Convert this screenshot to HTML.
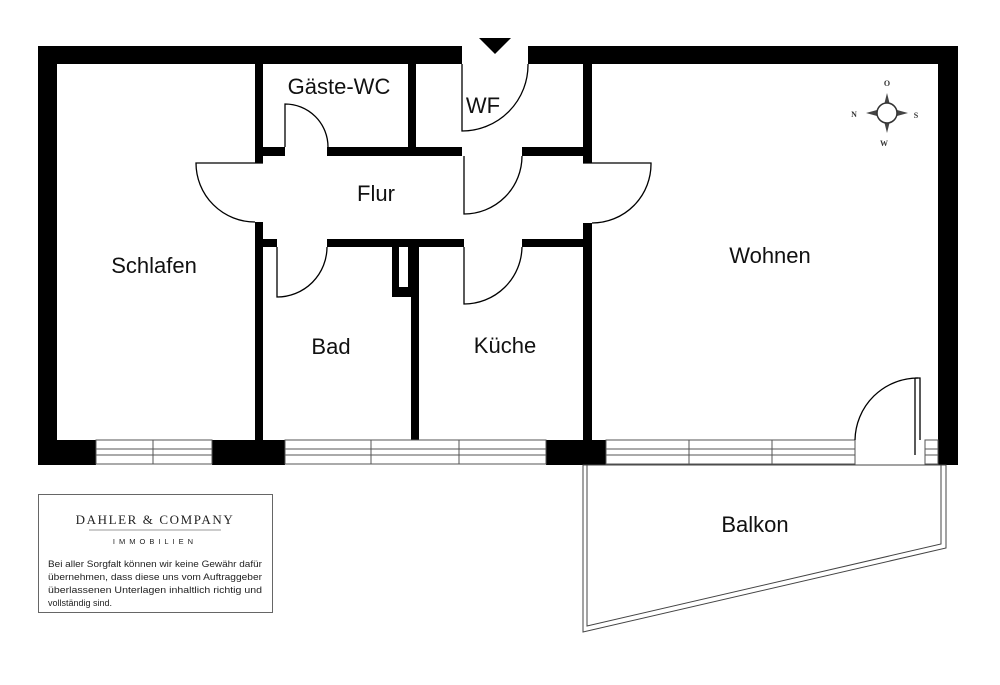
<!DOCTYPE html>
<html><head><meta charset="utf-8"><style>
html,body{margin:0;padding:0;background:#fff;width:1000px;height:685px;overflow:hidden}
svg{display:block}
.l{font-family:"Liberation Sans",sans-serif;font-size:22px;fill:#111}
</style></head><body>
<svg width="1000" height="685" viewBox="0 0 1000 685" xmlns="http://www.w3.org/2000/svg">
<rect width="1000" height="685" fill="#fff"/>
<g fill="#000">
<!-- outer walls -->
<rect x="38" y="46" width="424" height="18"/>
<rect x="528" y="46" width="430" height="18"/>
<rect x="38" y="46" width="19" height="419"/>
<rect x="938" y="46" width="20" height="419"/>
<!-- bottom wall blocks -->
<rect x="38" y="440" width="58" height="25"/>
<rect x="212" y="440" width="73" height="25"/>
<rect x="546" y="440" width="60" height="25"/>
<!-- interior verticals -->
<rect x="255" y="64" width="8" height="99"/>
<rect x="255" y="222" width="8" height="218"/>
<rect x="583" y="64" width="9" height="99"/>
<rect x="583" y="223" width="9" height="217"/>
<rect x="408" y="64" width="8" height="83"/>
<rect x="411" y="247" width="8" height="193"/>
<!-- corridor walls -->
<rect x="263" y="147" width="22" height="9"/>
<rect x="327" y="147" width="135" height="9"/>
<rect x="522" y="147" width="61" height="9"/>
<rect x="263" y="239" width="14" height="8"/>
<rect x="327" y="239" width="137" height="8"/>
<rect x="522" y="239" width="61" height="8"/>
<!-- shaft box -->
<rect x="392" y="247" width="19" height="50"/>
</g>
<rect x="399" y="247" width="9" height="40" fill="#fff"/>
<!-- windows -->
<g fill="none" stroke="#555" stroke-width="1">
<rect x="96" y="440" width="116" height="24"/>
<line x1="96" y1="449" x2="212" y2="449"/><line x1="96" y1="455" x2="212" y2="455"/>
<line x1="153" y1="440" x2="153" y2="464"/>
<rect x="285" y="440" width="261" height="24"/>
<line x1="285" y1="449" x2="546" y2="449"/><line x1="285" y1="455" x2="546" y2="455"/>
<line x1="371" y1="440" x2="371" y2="464"/><line x1="459" y1="440" x2="459" y2="464"/>
<rect x="606" y="440" width="249" height="24"/>
<line x1="606" y1="449" x2="855" y2="449"/><line x1="606" y1="455" x2="855" y2="455"/>
<line x1="689" y1="440" x2="689" y2="464"/><line x1="772" y1="440" x2="772" y2="464"/>
<rect x="925" y="440" width="13" height="24"/>
<line x1="925" y1="449" x2="938" y2="449"/><line x1="925" y1="455" x2="938" y2="455"/>
</g>
<!-- doors -->
<g fill="none" stroke="#000" stroke-width="1.3">
<path d="M285 147 V104 A43 43 0 0 1 328 147"/>
<path d="M462 64 V131 A66 66 0 0 0 528 64"/>
<path d="M263 163 H196 A59 59 0 0 0 255 222"/>
<path d="M464 156 V214 A58 58 0 0 0 522 156"/>
<path d="M583 163 H651 A59 59 0 0 1 592 223"/>
<path d="M277 247 V297 A50 50 0 0 0 327 247"/>
<path d="M464 247 V304 A58 58 0 0 0 522 247"/>
<path d="M855 440 A63 63 0 0 1 918 378"/>
<path d="M915 378 H920 V440 M915 378 V455"/>
</g>
<!-- entrance arrow -->
<polygon points="479,38 511,38 495,54" fill="#000"/>
<!-- balcony -->
<g fill="none" stroke="#444" stroke-width="1">
<polygon points="583,465 583,632 946,548 946,465"/>
<polygon points="587,465 587,626 941,544 941,465"/>
</g>
<!-- compass -->
<g>
<polygon points="887,93 890,105 884,105" fill="#444"/>
<polygon points="887,133 890,121 884,121" fill="#444"/>
<polygon points="866,113 877,110 877,116" fill="#444"/>
<polygon points="908,113 897,110 897,116" fill="#444"/>
<circle cx="887" cy="113" r="10" fill="#fff" stroke="#333" stroke-width="1.5"/>
<g font-family="Liberation Serif,serif" font-size="8" font-weight="bold" fill="#333" text-anchor="middle">
<text x="887" y="86">O</text><text x="854" y="117">N</text><text x="916" y="118">S</text><text x="884" y="146">W</text>
</g>
</g>
<!-- labels -->
<g class="l" text-anchor="middle">
<text x="339" y="94">Gäste-WC</text>
<text x="483" y="113">WF</text>
<text x="376" y="201">Flur</text>
<text x="154" y="273">Schlafen</text>
<text x="331" y="354">Bad</text>
<text x="505" y="353">Küche</text>
<text x="770" y="263">Wohnen</text>
<text x="755" y="532">Balkon</text>
</g>
<!-- logo box -->
<rect x="38.5" y="494.5" width="234" height="118" fill="#fff" stroke="#666" stroke-width="1"/>
<text x="155" y="524" text-anchor="middle" font-family="Liberation Serif,serif" font-size="13" letter-spacing="1.6" fill="#222">DAHLER &amp; COMPANY</text>
<line x1="89" y1="530" x2="221" y2="530" stroke="#999" stroke-width="1"/>
<text x="155" y="544" text-anchor="middle" font-family="Liberation Sans,sans-serif" font-size="7.5" letter-spacing="4" fill="#222">IMMOBILIEN</text>
<g font-family="Liberation Sans,sans-serif" font-size="9" fill="#222">
<text x="48" y="567" textLength="214" lengthAdjust="spacingAndGlyphs">Bei aller Sorgfalt können wir keine Gewähr dafür</text>
<text x="48" y="580" textLength="214" lengthAdjust="spacingAndGlyphs">übernehmen, dass diese uns vom Auftraggeber</text>
<text x="48" y="593" textLength="214" lengthAdjust="spacingAndGlyphs">überlassenen Unterlagen inhaltlich richtig und</text>
<text x="48" y="606">vollständig sind.</text>
</g>
</svg>
</body></html>
